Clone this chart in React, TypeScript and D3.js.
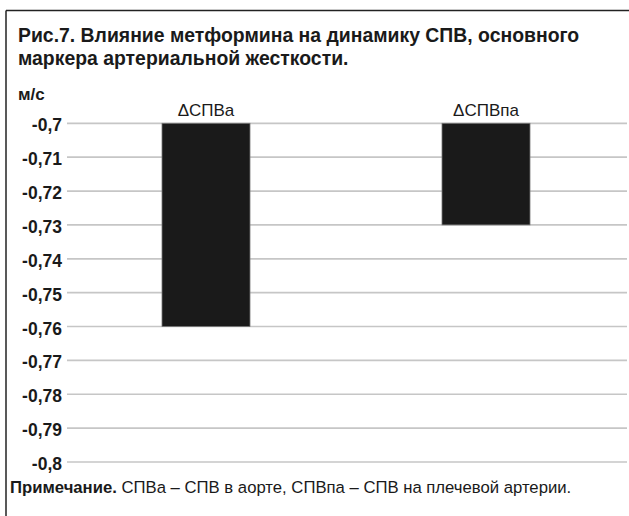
import React from "react";
import * as d3 from "d3";

const categories = ["ΔСПВа", "ΔСПВпа"];
const values = [-0.76, -0.73];
const tickValues = [-0.7, -0.71, -0.72, -0.73, -0.74, -0.75, -0.76, -0.77, -0.78, -0.79, -0.8];
const titleLines = [
  "Рис.7. Влияние метформина на динамику СПВ, основного",
  "маркера артериальной жесткости.",
];
const unitLabel = "м/с";
const noteBold = "Примечание.";
const noteText = " СПВа – СПВ в аорте, СПВпа – СПВ на плечевой артерии.";

const W = 629;
const H = 516;
const FONT = "'Liberation Sans', Arial, sans-serif";

export default function App() {
  const y = d3.scaleLinear().domain([-0.8, -0.7]).range([462, 123.3]);
  const x = d3.scalePoint<string>().domain(categories).range([66, 626]).padding(0.5);
  const barW = 88;
  const fmt = (v: number) => d3.format(".2~f")(v).replace(".", ",").replace("−", "-");

  return (
    <div style={{ position: "absolute", left: 0, top: 0 }}>
      <svg width={W} height={H} style={{ display: "block", background: "#fff" }}>
        <rect x={0} y={0} width={W} height={H} fill="#fff" />
        <line x1={6} y1={10.5} x2={W} y2={10.5} stroke="#222" strokeWidth={1.5} />
        <line x1={6} y1={10.5} x2={6} y2={H} stroke="#222" strokeWidth={1.5} />
        {titleLines.map((t, i) => (
          <text key={i} x={18} y={42 + i * 23} fontFamily={FONT} fontWeight="bold" fontSize={19.4} fill="#1a1a1a">
            {t}
          </text>
        ))}
        <text x={18} y={100} fontFamily={FONT} fontWeight="bold" fontSize={17} fill="#1a1a1a">
          {unitLabel}
        </text>
        {tickValues.map((v) => (
          <g key={v}>
            <line x1={67} x2={627} y1={y(v)} y2={y(v)} stroke="#c6c6c6" strokeWidth={1.7} />
            <text x={62} y={y(v) + 8} textAnchor="end" fontFamily={FONT} fontSize={17.5} fontWeight="bold" fill="#1a1a1a">
              {fmt(v)}
            </text>
          </g>
        ))}
        {categories.map((c, i) => (
          <g key={c}>
            <rect
              x={(x(c) as number) - barW / 2}
              y={y(-0.7)}
              width={barW}
              height={y(values[i]) - y(-0.7)}
              fill="#1a1a1a"
              stroke="#777"
              strokeWidth={0.8}
            />
            <text x={x(c) as number} y={116} textAnchor="middle" fontFamily={FONT} fontSize={17} fill="#1a1a1a">
              {c}
            </text>
          </g>
        ))}
        <text x={10} y={493} fontFamily={FONT} fontSize={16.7} fill="#1a1a1a">
          <tspan fontWeight="bold">{noteBold}</tspan>
          <tspan>{noteText}</tspan>
        </text>
      </svg>
    </div>
  );
}
